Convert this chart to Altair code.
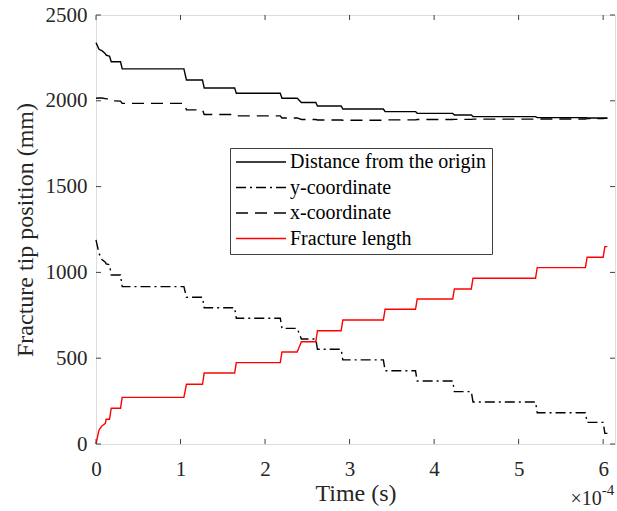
import altair as alt
import pandas as pd

# ---------------- data (time in units of 1e-4 s) ----------------
time_e4 = [0.00, 0.036, 0.07, 0.11, 0.12, 0.16, 0.18, 0.29, 0.31,
           1.04, 1.07, 1.26, 1.28, 1.64, 1.66, 2.18, 2.20, 2.38, 2.43,
           2.60, 2.62, 2.90, 2.92, 3.40, 3.42, 3.78, 3.80, 4.22, 4.24,
           4.44, 4.46, 5.20, 5.22, 5.79, 5.81, 6.00, 6.02, 6.05]

distance = [2339, 2300, 2292, 2275, 2266, 2260, 2228, 2228, 2186,
            2186, 2121, 2121, 2075, 2075, 2044, 2044, 2015, 2015, 1990,
            1990, 1970, 1970, 1952, 1952, 1937, 1937, 1927, 1927, 1917,
            1917, 1908, 1908, 1902, 1902, 1900, 1900, 1899, 1899]

y_coord = [1189, 1110, 1075, 1060, 1050, 1045, 985, 985, 917,
           917, 855, 855, 794, 794, 733, 733, 674, 674, 612,
           612, 552, 552, 490, 490, 427, 427, 367, 367, 305,
           305, 245, 245, 182, 182, 126, 126, 62, 62]

x_coord = [2015, 2016, 2016, 2013, 2012, 2011, 2000, 1998, 1985,
           1985, 1947, 1947, 1920, 1920, 1912, 1912, 1900, 1900, 1891,
           1891, 1888, 1888, 1887, 1887, 1889, 1889, 1891, 1891, 1892,
           1892, 1893, 1893, 1894, 1894, 1896, 1896, 1898, 1898]

frac_len = [0, 82, 105, 120, 144, 144, 208, 208, 272,
            272, 348, 348, 414, 414, 474, 474, 536, 536, 596,
            596, 660, 660, 723, 723, 785, 785, 845, 845, 903,
            903, 966, 966, 1028, 1028, 1088, 1088, 1150, 1150]

series_names = ["Distance from the origin", "y-coordinate", "x-coordinate", "Fracture length"]
series_colors = ["#000000", "#000000", "#000000", "#ff0000"]
series_dashes = [[1, 0], [10, 4, 2, 4], [12, 7], [1, 0]]

x_tick_values = [0, 1, 2, 3, 4, 5, 6]
y_tick_values = [0, 500, 1000, 1500, 2000, 2500]
exponent_base = ["×10"]
exponent_power = ["-4"]

# ---------------- layout ----------------
W, H = 519, 429
FONT = "Liberation Serif"
AX = "#404040"

rows = []
for name, vals in zip(series_names, [distance, y_coord, x_coord, frac_len]):
    for t, v in zip(time_e4, vals):
        rows.append({"t": t, "v": v, "series": name})
df = pd.DataFrame(rows)

xs = alt.Scale(domain=[0, 6.14], nice=False, zero=False)
ys = alt.Scale(domain=[0, 2500], nice=False)

legend = alt.Legend(
    title=None, orient="none", legendX=134, legendY=133,
    symbolType="stroke", symbolSize=2500, symbolStrokeWidth=1.4,
    clipHeight=18, rowPadding=5.5, padding=5,
    labelFont=FONT, labelFontSize=20, labelColor="#000000",
    labelOffset=3, labelLimit=500,
    fillColor="white", strokeColor=AX,
)

x_axis = alt.Axis(
    values=x_tick_values, format="d", title="Time (s)",
    titleFont=FONT, titleFontSize=24, titleFontWeight="normal", titleColor="#262626",
    titleBaseline="alphabetic", titleY=56,
    labelFont=FONT, labelFontSize=21, labelColor="#262626",
    labelBaseline="alphabetic", labelPadding=31,
    ticks=False, tickSize=0, domain=False, grid=False,
    labelFlush=False, labelOverlap=False,
)

y_axis = alt.Axis(
    values=y_tick_values, format="d", title="Fracture tip position (mm)",
    titleFont=FONT, titleFontSize=24, titleFontWeight="normal", titleColor="#262626",
    titleAngle=270, titleBaseline="alphabetic", titleAlign="center",
    titleX=-64, titleY=H / 2,
    labelFont=FONT, labelFontSize=21, labelColor="#262626", labelPadding=9,
    ticks=False, tickSize=0, domain=False, grid=False,
    labelFlush=False, labelOverlap=False,
)

lines = alt.Chart(df).mark_line(strokeWidth=1.4).encode(
    x=alt.X("t:Q", scale=xs, axis=x_axis),
    y=alt.Y("v:Q", scale=ys, axis=y_axis),
    color=alt.Color("series:N", scale=alt.Scale(domain=series_names, range=series_colors), legend=legend),
    strokeDash=alt.StrokeDash("series:N", scale=alt.Scale(domain=series_names, range=series_dashes), legend=legend),
)

xt = pd.DataFrame({"t": x_tick_values})
yt = pd.DataFrame({"v": y_tick_values})
TL = 5

tick_bottom = alt.Chart(xt).mark_rule(color=AX, strokeWidth=1).encode(
    x=alt.X("t:Q", scale=xs, axis=x_axis), y=alt.value(H), y2=alt.value(H - TL))
tick_top = alt.Chart(xt).mark_rule(color=AX, strokeWidth=1).encode(
    x=alt.X("t:Q", scale=xs, axis=x_axis), y=alt.value(0), y2=alt.value(TL))
tick_left = alt.Chart(yt).mark_rule(color=AX, strokeWidth=1).encode(
    y=alt.Y("v:Q", scale=ys, axis=y_axis), x=alt.value(0), x2=alt.value(TL))
tick_right = alt.Chart(yt).mark_rule(color=AX, strokeWidth=1).encode(
    y=alt.Y("v:Q", scale=ys, axis=y_axis), x=alt.value(W), x2=alt.value(W - TL))

exp_base = alt.Chart(pd.DataFrame({"s": exponent_base})).mark_text(
    align="right", baseline="alphabetic", font=FONT, fontSize=20, color="#262626"
).encode(x=alt.value(505.7), y=alt.value(490), text="s:N")

exp_pow = alt.Chart(pd.DataFrame({"s": exponent_power})).mark_text(
    align="left", baseline="alphabetic", font=FONT, fontSize=15, color="#262626"
).encode(x=alt.value(505.7), y=alt.value(480), text="s:N")

chart = alt.layer(
    lines, tick_bottom, tick_top, tick_left, tick_right, exp_base, exp_pow
).properties(
    width=W, height=H,
    autosize=alt.AutoSizeParams(type="none"),
    padding={"left": 96, "top": 15, "right": 2, "bottom": 67},
).configure_view(stroke=AX, strokeWidth=1).configure(background="white")

chart.save("out.html", embed_options={"renderer": "svg", "actions": False})
